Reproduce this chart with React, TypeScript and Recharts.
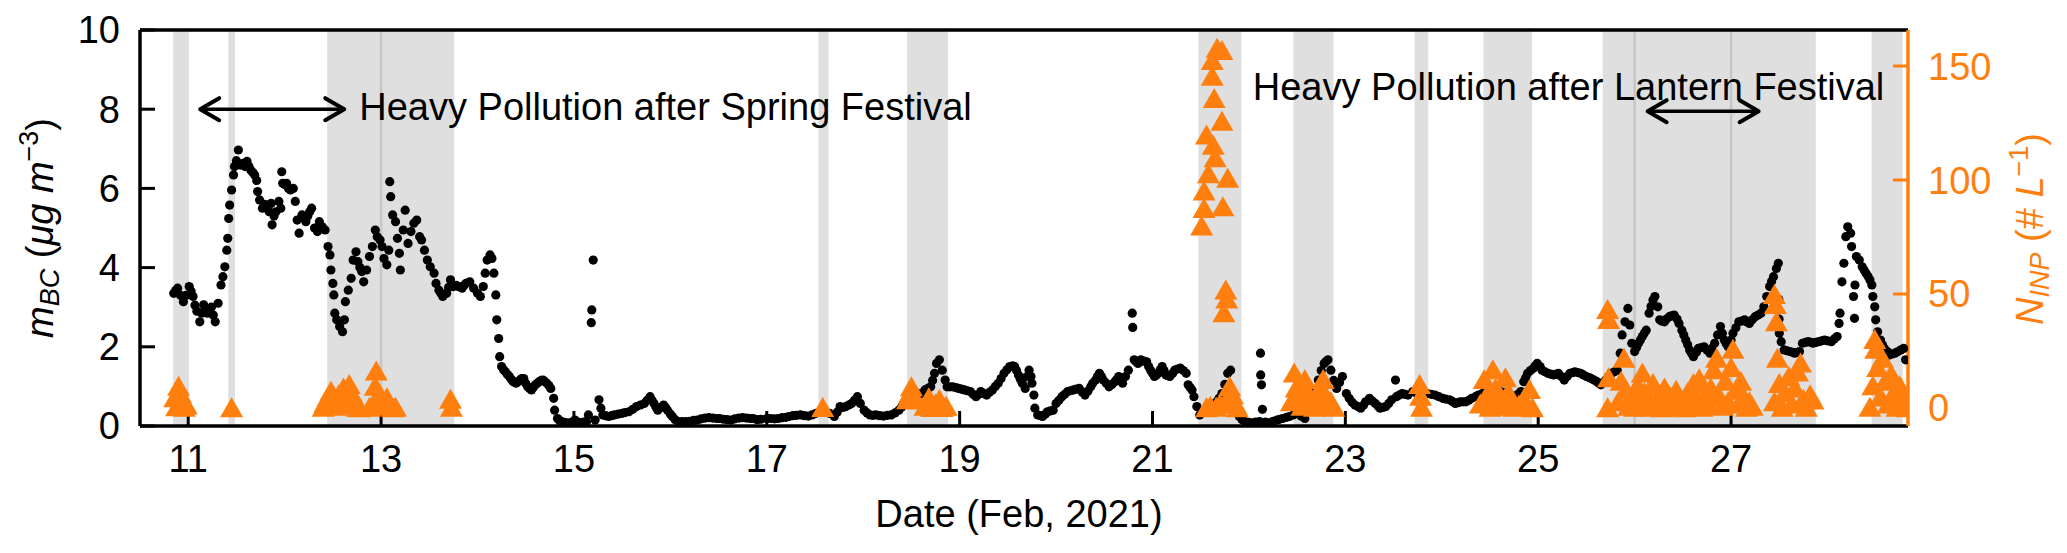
import {
  ComposedChart,
  Scatter,
  XAxis,
  YAxis,
  ReferenceArea,
  ReferenceLine,
  ReferenceDot,
} from "recharts";

const FONT = "'Liberation Sans', Arial, Helvetica, sans-serif";
const ORANGE = "#ff7f0e";

// black carbon mass (day of Feb 2021, µg m-3)
const bcSeries: [number, number][] = [
  [10.85, 3.35], [10.87, 3.42], [10.89, 3.48], [10.92, 3.3], [10.95, 3.14], [10.98, 3.3], [11.01, 3.52], [11.03, 3.4],
  [11.05, 3.27], [11.07, 3.05], [11.09, 2.9], [11.12, 2.63], [11.14, 2.85], [11.16, 3.06], [11.18, 2.95], [11.2, 2.85],
  [11.22, 2.95], [11.24, 3.0], [11.26, 2.8], [11.28, 2.63], [11.31, 3.1], [11.34, 3.56], [11.36, 3.77], [11.38, 4.02],
  [11.4, 4.44], [11.41, 4.74], [11.42, 5.24], [11.43, 5.58], [11.45, 5.96], [11.47, 6.34], [11.48, 6.55], [11.5, 6.7],
  [11.52, 6.97], [11.54, 6.59], [11.57, 6.63], [11.59, 6.55], [11.61, 6.68], [11.63, 6.55], [11.65, 6.46], [11.67, 6.4],
  [11.69, 6.34], [11.71, 6.2], [11.72, 5.92], [11.74, 5.71], [11.77, 5.5], [11.79, 5.6], [11.81, 5.58], [11.84, 5.41],
  [11.86, 5.62], [11.87, 5.08], [11.89, 5.3], [11.91, 5.41], [11.94, 5.67], [11.96, 5.5], [11.97, 6.42], [11.98, 6.13],
  [12.0, 6.1], [12.02, 6.13], [12.04, 6.0], [12.06, 5.96], [12.09, 6.0], [12.11, 5.67], [12.13, 5.2], [12.15, 4.87],
  [12.18, 5.33], [12.2, 5.25], [12.22, 5.16], [12.24, 5.3], [12.26, 5.41], [12.28, 5.5], [12.31, 5.0], [12.34, 4.91],
  [12.36, 5.16], [12.39, 5.03], [12.42, 4.95], [12.45, 4.53], [12.47, 4.32], [12.48, 3.94], [12.5, 3.6], [12.51, 3.31],
  [12.52, 2.85], [12.54, 2.68], [12.57, 2.51], [12.6, 2.38], [12.62, 2.68], [12.63, 3.14], [12.66, 3.43], [12.69, 3.73],
  [12.71, 4.19], [12.74, 4.4], [12.76, 4.15], [12.78, 4.0], [12.8, 3.9], [12.82, 3.64], [12.85, 3.94], [12.88, 4.28],
  [12.91, 4.53], [12.94, 4.95], [12.96, 4.78], [12.99, 4.7], [13.01, 4.53], [13.03, 4.23], [13.06, 4.07], [13.08, 4.44],
  [13.09, 6.17], [13.1, 5.79], [13.12, 5.33], [13.15, 5.16], [13.17, 4.74], [13.19, 4.36], [13.2, 3.94], [13.23, 4.95],
  [13.25, 5.45], [13.28, 4.61], [13.31, 4.91], [13.34, 5.12], [13.37, 5.2], [13.4, 4.78], [13.42, 4.7], [13.45, 4.44],
  [13.48, 4.19], [13.51, 4.02], [13.55, 3.86], [13.57, 3.6], [13.6, 3.43], [13.62, 3.35], [13.64, 3.27], [13.68, 3.35],
  [13.7, 3.5], [13.72, 3.69], [13.75, 3.52], [13.78, 3.55], [13.8, 3.52], [13.84, 3.48], [13.86, 3.55], [13.88, 3.6],
  [13.92, 3.64], [13.96, 3.48], [14.0, 3.35], [14.03, 3.27], [14.06, 3.52], [14.08, 3.86], [14.1, 4.19], [14.13, 4.32],
  [14.15, 4.23], [14.17, 3.86], [14.19, 3.31], [14.2, 2.68], [14.22, 2.21], [14.23, 1.75], [14.25, 1.5], [14.27, 1.42],
  [14.29, 1.37], [14.31, 1.3], [14.33, 1.25], [14.35, 1.18], [14.37, 1.12], [14.4, 1.08], [14.42, 1.12], [14.44, 1.16],
  [14.46, 1.2], [14.48, 1.2], [14.5, 1.08], [14.52, 0.99], [14.54, 0.95], [14.56, 0.91], [14.58, 0.98], [14.6, 1.04],
  [14.62, 1.08], [14.64, 1.12], [14.66, 1.15], [14.68, 1.16], [14.7, 1.12], [14.72, 1.08], [14.74, 1.02], [14.76, 0.95],
  [14.79, 0.7], [14.8, 0.4], [14.83, 0.19], [14.85, 0.14], [14.87, 0.11], [14.9, 0.09], [14.93, 0.08], [14.95, 0.07],
  [14.98, 0.1], [15.01, 0.15], [15.04, 0.1], [15.07, 0.08], [15.1, 0.1], [15.13, 0.11], [15.15, 0.28], [15.18, 2.61],
  [15.185, 2.93], [15.2, 4.19], [15.22, 0.15], [15.26, 0.66], [15.28, 0.45], [15.3, 0.28], [15.33, 0.26], [15.36, 0.24],
  [15.39, 0.26], [15.42, 0.28], [15.46, 0.3], [15.5, 0.32], [15.53, 0.34], [15.57, 0.36], [15.61, 0.42], [15.65, 0.49],
  [15.69, 0.53], [15.73, 0.57], [15.76, 0.65], [15.79, 0.74], [15.81, 0.65], [15.83, 0.57], [15.85, 0.48], [15.87, 0.4],
  [15.9, 0.47], [15.93, 0.53], [15.95, 0.47], [15.97, 0.4], [16.0, 0.3], [16.02, 0.24], [16.05, 0.16], [16.08, 0.11],
  [16.12, 0.11], [16.16, 0.11], [16.2, 0.12], [16.24, 0.14], [16.28, 0.15], [16.32, 0.18], [16.36, 0.2], [16.4, 0.21],
  [16.44, 0.2], [16.48, 0.19], [16.51, 0.19], [16.55, 0.17], [16.59, 0.16], [16.63, 0.15], [16.67, 0.18], [16.71, 0.2],
  [16.75, 0.21], [16.79, 0.2], [16.83, 0.19], [16.86, 0.19], [16.9, 0.16], [16.94, 0.17], [17.0, 0.19], [17.04, 0.19],
  [17.08, 0.18], [17.12, 0.19], [17.16, 0.21], [17.2, 0.22], [17.23, 0.24], [17.27, 0.26], [17.31, 0.27], [17.35, 0.28],
  [17.39, 0.26], [17.43, 0.25], [17.47, 0.28], [17.51, 0.32], [17.55, 0.36], [17.6, 0.4], [17.65, 0.32], [17.7, 0.24],
  [17.73, 0.35], [17.76, 0.49], [17.79, 0.47], [17.82, 0.49], [17.85, 0.53], [17.88, 0.57], [17.91, 0.65], [17.94, 0.74],
  [17.97, 0.57], [18.01, 0.4], [18.04, 0.33], [18.07, 0.28], [18.1, 0.27], [18.13, 0.28], [18.17, 0.26], [18.21, 0.25],
  [18.25, 0.27], [18.29, 0.28], [18.33, 0.33], [18.37, 0.4], [18.4, 0.48], [18.42, 0.57], [18.45, 0.62], [18.48, 0.66],
  [18.52, 0.7], [18.56, 0.74], [18.6, 0.82], [18.64, 0.91], [18.67, 0.95], [18.7, 0.99], [18.72, 1.15], [18.74, 1.33],
  [18.76, 1.58], [18.79, 1.67], [18.82, 1.41], [18.85, 1.16], [18.87, 0.99], [18.9, 0.99], [18.93, 0.99], [18.96, 0.97],
  [18.99, 0.95], [19.02, 0.93], [19.05, 0.91], [19.08, 0.89], [19.11, 0.87], [19.14, 0.8], [19.17, 0.74], [19.2, 0.8],
  [19.22, 0.87], [19.25, 0.82], [19.28, 0.78], [19.31, 0.85], [19.34, 0.91], [19.37, 1.0], [19.4, 1.08], [19.43, 1.2],
  [19.46, 1.33], [19.49, 1.42], [19.52, 1.5], [19.55, 1.52], [19.57, 1.5], [19.59, 1.4], [19.61, 1.29], [19.63, 1.18],
  [19.65, 1.08], [19.68, 0.95], [19.7, 1.25], [19.72, 1.41], [19.74, 1.25], [19.75, 1.08], [19.77, 0.78], [19.78, 0.45],
  [19.81, 0.28], [19.84, 0.26], [19.86, 0.24], [19.89, 0.3], [19.91, 0.36], [19.94, 0.38], [19.97, 0.4], [20.0, 0.57],
  [20.03, 0.65], [20.06, 0.74], [20.09, 0.8], [20.12, 0.87], [20.15, 0.89], [20.18, 0.91], [20.21, 0.93], [20.24, 0.95],
  [20.27, 0.86], [20.3, 0.78], [20.33, 0.88], [20.36, 0.99], [20.38, 1.08], [20.41, 1.16], [20.43, 1.25], [20.45, 1.33],
  [20.47, 1.25], [20.49, 1.16], [20.52, 1.08], [20.55, 0.99], [20.58, 1.05], [20.61, 1.12], [20.63, 1.18], [20.65, 1.25],
  [20.67, 1.16], [20.69, 1.08], [20.72, 1.25], [20.75, 1.41], [20.79, 2.85], [20.795, 2.49], [20.81, 1.67], [20.83, 1.62],
  [20.85, 1.58], [20.87, 1.62], [20.88, 1.67], [20.91, 1.64], [20.94, 1.62], [20.96, 1.5], [20.98, 1.41], [21.0, 1.33],
  [21.02, 1.25], [21.04, 1.29], [21.06, 1.33], [21.08, 1.42], [21.1, 1.5], [21.12, 1.4], [21.14, 1.29], [21.16, 1.27],
  [21.18, 1.25], [21.21, 1.33], [21.23, 1.41], [21.26, 1.44], [21.29, 1.46], [21.32, 1.4], [21.35, 1.33], [21.37, 1.04],
  [21.39, 0.97], [21.41, 0.91], [21.43, 0.74], [21.46, 0.49], [21.49, 0.28], [21.52, 0.34], [21.55, 0.4], [21.58, 0.45],
  [21.62, 0.49], [21.66, 0.6], [21.69, 0.7], [21.72, 0.82], [21.75, 1.05], [21.78, 1.33], [21.81, 1.41], [21.84, 0.82],
  [21.87, 0.5], [21.9, 0.24], [21.93, 0.16], [21.96, 0.11], [22.0, 0.09], [22.03, 0.08], [22.07, 0.1], [22.11, 0.11],
  [22.12, 1.84], [22.122, 1.29], [22.13, 1.04], [22.14, 0.42], [22.17, 0.1], [22.21, 0.08], [22.25, 0.12], [22.29, 0.15],
  [22.32, 0.17], [22.35, 0.19], [22.39, 0.22], [22.42, 0.24], [22.46, 0.28], [22.5, 0.32], [22.54, 0.25], [22.58, 0.19],
  [22.62, 0.38], [22.66, 0.57], [22.69, 0.85], [22.72, 1.16], [22.75, 1.4], [22.78, 1.58], [22.8, 1.63], [22.82, 1.67],
  [22.85, 1.41], [22.88, 1.15], [22.91, 0.95], [22.94, 1.1], [22.97, 1.25], [23.01, 0.82], [23.04, 0.7], [23.07, 0.6],
  [23.1, 0.53], [23.13, 0.49], [23.16, 0.45], [23.19, 0.53], [23.21, 0.61], [23.25, 0.7], [23.28, 0.63], [23.31, 0.57],
  [23.34, 0.5], [23.36, 0.45], [23.39, 0.47], [23.42, 0.49], [23.45, 0.57], [23.48, 0.66], [23.52, 1.16], [23.53, 0.74],
  [23.56, 0.78], [23.59, 0.82], [23.62, 0.8], [23.65, 0.78], [23.7, 0.87], [23.74, 0.82], [23.78, 0.78], [23.82, 0.8],
  [23.85, 0.82], [23.89, 0.8], [23.93, 0.78], [23.97, 0.74], [24.01, 0.7], [24.04, 0.68], [24.08, 0.66], [24.11, 0.62],
  [24.14, 0.57], [24.17, 0.59], [24.19, 0.61], [24.22, 0.61], [24.25, 0.61], [24.28, 0.65], [24.31, 0.7], [24.35, 0.74],
  [24.38, 0.78], [24.42, 0.82], [24.46, 0.87], [24.5, 0.91], [24.53, 0.95], [24.57, 0.91], [24.61, 0.87], [24.65, 0.85],
  [24.68, 0.82], [24.72, 0.78], [24.76, 0.74], [24.79, 0.8], [24.82, 0.87], [24.85, 1.12], [24.87, 1.22], [24.89, 1.33],
  [24.92, 1.4], [24.95, 1.46], [24.97, 1.52], [24.99, 1.58], [25.02, 1.5], [25.04, 1.41], [25.07, 1.37], [25.1, 1.33],
  [25.13, 1.31], [25.16, 1.29], [25.19, 1.31], [25.21, 1.33], [25.24, 1.25], [25.27, 1.16], [25.3, 1.25], [25.33, 1.33],
  [25.36, 1.35], [25.38, 1.37], [25.41, 1.35], [25.44, 1.33], [25.47, 1.29], [25.5, 1.25], [25.53, 1.22], [25.55, 1.2],
  [25.58, 1.16], [25.61, 1.12], [25.63, 1.08], [25.65, 1.04], [25.68, 1.1], [25.7, 1.16], [25.73, 1.25], [25.76, 1.33],
  [25.79, 1.37], [25.82, 1.41], [25.85, 1.84], [25.87, 2.3], [25.9, 2.63], [25.93, 2.97], [25.95, 2.55], [25.97, 2.09],
  [26.0, 1.88], [26.02, 1.98], [26.04, 2.09], [26.06, 2.17], [26.08, 2.26], [26.1, 2.34], [26.12, 2.42], [26.15, 2.85],
  [26.17, 3.02], [26.19, 3.18], [26.21, 3.27], [26.24, 3.01], [26.26, 2.68], [26.28, 2.65], [26.31, 2.63], [26.33, 2.7],
  [26.36, 2.76], [26.38, 2.78], [26.41, 2.8], [26.44, 2.7], [26.46, 2.59], [26.49, 2.42], [26.51, 2.3], [26.53, 2.17],
  [26.55, 2.05], [26.57, 1.92], [26.59, 1.84], [26.61, 1.75], [26.64, 1.86], [26.66, 1.96], [26.69, 1.98], [26.72, 2.0],
  [26.75, 1.92], [26.78, 1.84], [26.8, 1.96], [26.83, 2.09], [26.86, 2.3], [26.89, 2.51], [26.91, 2.34], [26.93, 2.17],
  [26.95, 2.08], [26.97, 2.0], [27.0, 2.17], [27.02, 2.34], [27.05, 2.48], [27.08, 2.63], [27.11, 2.65], [27.14, 2.68],
  [27.16, 2.63], [27.19, 2.59], [27.22, 2.68], [27.25, 2.76], [27.28, 2.8], [27.31, 2.85], [27.34, 3.01], [27.37, 3.27],
  [27.4, 3.52], [27.42, 3.65], [27.44, 3.77], [27.47, 3.98], [27.49, 4.11], [27.495, 3.2], [27.498, 2.7], [27.5, 2.34],
  [27.52, 2.13], [27.55, 1.92], [27.58, 1.9], [27.61, 1.88], [27.64, 1.86], [27.66, 1.84], [27.69, 1.86], [27.71, 1.88],
  [27.74, 2.09], [27.77, 2.11], [27.8, 2.13], [27.83, 2.11], [27.85, 2.09], [27.88, 2.11], [27.91, 2.13], [27.94, 2.15],
  [27.97, 2.17], [28.0, 2.15], [28.04, 2.13], [28.07, 2.2], [28.1, 2.26], [28.12, 2.59], [28.13, 2.85], [28.15, 3.64],
  [28.17, 4.11], [28.19, 4.78], [28.21, 5.03], [28.24, 4.87], [28.25, 4.53], [28.27, 3.27], [28.28, 2.72], [28.285, 3.56],
  [28.3, 4.28], [28.33, 4.19], [28.36, 4.02], [28.38, 3.94], [28.4, 3.86], [28.42, 3.78], [28.44, 3.69], [28.46, 3.56],
  [28.47, 3.27], [28.49, 3.01], [28.5, 2.68], [28.52, 2.38], [28.55, 2.17], [28.57, 2.05], [28.59, 1.96], [28.62, 1.88],
  [28.64, 1.79], [28.67, 1.82], [28.7, 1.84], [28.73, 1.88], [28.76, 1.92], [28.79, 1.96], [28.81, 1.67],
];

// INP number concentration (day, # per L)
const inpSeries: [number, number][] = [
  [10.86, 4.7], [10.88, 0.8], [10.9, 9.8], [10.92, 6.5], [10.94, 2.5], [10.96, 0.5], [10.98, 1.5],
  [11.45, 0.3],
  [12.4, 0.5], [12.42, 2.5], [12.45, 5.0], [12.48, 7.6], [12.5, 3.0], [12.53, 1.0], [12.56, 6.0], [12.59, 2.0],
  [12.61, 9.0], [12.64, 4.0], [12.67, 10.5], [12.69, 7.0], [12.72, 2.0], [12.75, 0.5], [12.78, 0.3],
  [12.88, 0.5], [12.92, 2.0], [12.94, 9.8], [12.95, 16.4], [12.97, 5.0], [13.0, 1.0], [13.03, 3.0], [13.06, 4.7],
  [13.09, 1.5], [13.12, 0.3], [13.15, 0.5],
  [13.72, 4.0], [13.73, 0.5],
  [17.58, 0.4],
  [18.46, 3.8], [18.48, 6.5], [18.5, 9.5], [18.52, 4.5], [18.55, 3.8],
  [18.64, 1.0], [18.68, 4.7], [18.71, 0.4], [18.75, 2.0], [18.79, 3.9], [18.82, 0.4], [18.86, 1.0],
  [21.51, 80], [21.535, 95.4], [21.535, 87.7], [21.56, 120], [21.58, 103], [21.62, 152.6], [21.62, 145.7],
  [21.63, 115.5], [21.64, 136], [21.65, 110], [21.67, 158], [21.72, 157], [21.72, 126], [21.73, 88.5],
  [21.78, 101], [21.76, 52], [21.77, 48], [21.74, 42],
  [21.56, 0.3], [21.6, 1.0], [21.66, 0.5], [21.7, 2.0], [21.78, 4.5], [21.8, 9.6], [21.83, 6.0], [21.86, 2.0], [21.88, 0.3],
  [22.44, 3.0], [22.47, 15.6], [22.49, 9.0], [22.52, 5.0], [22.55, 1.0], [22.58, 12.7], [22.61, 7.0], [22.64, 2.0],
  [22.68, 0.5], [22.71, 4.0], [22.74, 9.0], [22.77, 12.7], [22.79, 6.0], [22.82, 1.5], [22.85, 3.0], [22.88, 0.5],
  [23.77, 10.5], [23.78, 5.4], [23.79, 0.5],
  [24.4, 2.0], [24.44, 12.7], [24.47, 6.0], [24.5, 0.5], [24.53, 17.0], [24.56, 9.0], [24.59, 3.0], [24.62, 1.0],
  [24.66, 13.5], [24.69, 7.0], [24.72, 2.5], [24.75, 0.5], [24.8, 1.5], [24.85, 4.0], [24.91, 8.3], [24.94, 0.3],
  [25.72, 43.4], [25.73, 39.0], [25.73, 13.5], [25.72, 0.3],
  [25.83, 3], [25.86, 12], [25.89, 22], [25.91, 8], [25.94, 1], [25.97, 5], [26.0, 0.5], [26.03, 10], [26.06, 2],
  [26.08, 15.6], [26.1, 7], [26.13, 0.5], [26.16, 4], [26.19, 11], [26.22, 1], [26.25, 6], [26.28, 0.3], [26.31, 9],
  [26.34, 2], [26.37, 5], [26.4, 0.5], [26.43, 8], [26.46, 1], [26.49, 3], [26.52, 0.3], [26.55, 7], [26.58, 1],
  [26.61, 11], [26.64, 4], [26.67, 13], [26.7, 0.5], [26.73, 6], [26.76, 2], [26.79, 9], [26.82, 17], [26.85, 22],
  [26.88, 5], [26.91, 1], [26.94, 12], [26.97, 3], [27.0, 18], [27.02, 26], [27.05, 8], [27.08, 2], [27.1, 12],
  [27.13, 5], [27.16, 0.5], [27.19, 3], [27.22, 1],
  [27.45, 50], [27.46, 45.6], [27.47, 38],
  [27.45, 3], [27.48, 22], [27.5, 11], [27.53, 0.5], [27.56, 7], [27.6, 14], [27.63, 2], [27.66, 9], [27.69, 16],
  [27.72, 20], [27.75, 4], [27.78, 0.5], [27.82, 6], [27.85, 3.7],
  [28.44, 0.5], [28.47, 10], [28.49, 30.3], [28.5, 26], [28.52, 18], [28.55, 5], [28.57, 22], [28.6, 12], [28.63, 2],
  [28.66, 15], [28.69, 7], [28.72, 0.5], [28.75, 10], [28.78, 3], [28.81, 5], [28.83, 0.3],
];

// shaded periods
const bandStarts = [10.844, 11.416, 12.441, 17.536, 18.455, 21.476, 22.461, 23.718, 24.432, 25.668, 28.457];
const bandEnds = [11.008, 11.486, 13.759, 17.64, 18.88, 21.922, 22.877, 23.86, 24.936, 27.879, 28.78];
const dividers = [13.0, 26.0, 27.0];

const xDomain: [number, number] = [10.5, 28.835];
const xTicks = [11, 13, 15, 17, 19, 21, 23, 25, 27];
const leftTicks = [0, 2, 4, 6, 8, 10];
const rightTicks = [0, 50, 100, 150];

const notes = [
  { text: "Heavy Pollution after Spring Festival", x: 12.774, y: 7.72 },
  { text: "Heavy Pollution after Lantern Festival", x: 22.04, y: 8.22 },
];
const arrows = [
  { from: 11.124, to: 12.618, y: 8 },
  { from: 26.135, to: 27.286, y: 7.95 },
];

const bcData = bcSeries.map(([t, v]) => ({ t, v }));
const inpData = inpSeries.map(([t, v]) => ({ t, v }));

const Dot = (p: any) => <circle cx={p.cx} cy={p.cy} r={4.6} fill="#000" />;

const Tri = (p: any) => (
  <polygon
    points={`${p.cx},${p.cy - 10} ${p.cx - 11.5},${p.cy + 10} ${p.cx + 11.5},${p.cy + 10}`}
    fill={ORANGE}
  />
);

// inward tick marks
const TickMark = (dx: number, dy: number, color: string) => (p: any) => (
  <line x1={p.cx} y1={p.cy} x2={p.cx + dx} y2={p.cy + dy} stroke={color} strokeWidth={3} />
);

const Head = (dir: number) => (p: any) => (
  <polyline
    points={`${p.cx + dir * 19},${p.cy - 11} ${p.cx},${p.cy} ${p.cx + dir * 19},${p.cy + 11}`}
    fill="none"
    stroke="#000"
    strokeWidth={4}
    strokeLinecap="round"
    strokeLinejoin="round"
  />
);

const NoteText = (text: string) => (p: any) => (
  <text x={p.cx} y={p.cy} fontFamily={FONT} fontSize={38} fill="#000">
    {text}
  </text>
);

function LeftTitle() {
  return (
    <text
      transform="translate(53,228) rotate(-90)"
      textAnchor="middle"
      fontFamily={FONT}
      fontSize={38}
      fill="#000"
    >
      <tspan fontStyle="italic">m</tspan>
      <tspan fontStyle="italic" fontSize={27} dy={6}>BC</tspan>
      <tspan dy={-6}>{" ("}</tspan>
      <tspan fontStyle="italic">{"\u03bcg m"}</tspan>
      <tspan fontSize={27} dy={-15}>{"\u22123"}</tspan>
      <tspan dy={15}>)</tspan>
    </text>
  );
}

function RightTitle() {
  return (
    <text
      transform="translate(2043,229) rotate(-90)"
      textAnchor="middle"
      fontFamily={FONT}
      fontSize={38}
      fill={ORANGE}
    >
      <tspan fontStyle="italic">N</tspan>
      <tspan fontStyle="italic" fontSize={27} dy={6}>INP</tspan>
      <tspan dy={-6}>{" (# "}</tspan>
      <tspan fontStyle="italic">L</tspan>
      <tspan fontSize={27} dy={-15}>{"\u22121"}</tspan>
      <tspan dy={15}>)</tspan>
    </text>
  );
}

function XTitle() {
  return (
    <text x={1019} y={527} textAnchor="middle" fontFamily={FONT} fontSize={38} fill="#000">
      Date (Feb, 2021)
    </text>
  );
}

export default function App() {
  return (
    <div style={{ position: "absolute", left: 0, top: 0, background: "#fff" }}>
      <ComposedChart
        width={2067}
        height={553}
        margin={{ top: 30, right: 0, bottom: 0, left: 0 }}
      >
        <XAxis
          dataKey="t"
          type="number"
          domain={xDomain}
          allowDataOverflow
          ticks={xTicks}
          height={127}
          tickSize={0}
          tickMargin={19}
          axisLine={{ stroke: "#000", strokeWidth: 3.5 }}
          tickLine={false}
          tick={{ fill: "#000", fontSize: 38, fontFamily: FONT }}
          label={<XTitle />}
        />
        <YAxis
          yAxisId="left"
          dataKey="v"
          type="number"
          domain={[0, 10]}
          allowDataOverflow
          ticks={leftTicks}
          width={140}
          tickSize={0}
          tickMargin={20}
          axisLine={{ stroke: "#000", strokeWidth: 3.5 }}
          tickLine={false}
          tick={{ fill: "#000", fontSize: 38, fontFamily: FONT }}
          label={<LeftTitle />}
        />
        <YAxis
          yAxisId="right"
          orientation="right"
          dataKey="v"
          type="number"
          domain={[-7.9, 165.8]}
          allowDataOverflow
          ticks={rightTicks}
          width={159}
          tickSize={0}
          tickMargin={20}
          axisLine={{ stroke: ORANGE, strokeWidth: 3.5 }}
          tickLine={false}
          tick={{ fill: ORANGE, fontSize: 38, fontFamily: FONT }}
          label={<RightTitle />}
        />

        {bandStarts.map((s, i) => (
          <ReferenceArea
            key={`band-${i}`}
            yAxisId="left"
            x1={s}
            x2={bandEnds[i]}
            fill="#dfdfdf"
            fillOpacity={1}
            stroke="none"
          />
        ))}
        {dividers.map((d) => (
          <ReferenceLine key={`div-${d}`} yAxisId="left" x={d} stroke="#c6c6c6" strokeWidth={2.5} />
        ))}
        <ReferenceLine yAxisId="left" y={10} stroke="#000" strokeWidth={3.5} />

        {xTicks.map((t) => (
          <ReferenceDot key={`xt-${t}`} yAxisId="left" x={t} y={0} shape={TickMark(0, -15, "#000")} />
        ))}
        {leftTicks.map((v) => (
          <ReferenceDot key={`lt-${v}`} yAxisId="left" x={xDomain[0]} y={v} shape={TickMark(15, 0, "#000")} />
        ))}
        {rightTicks.map((v) => (
          <ReferenceDot key={`rt-${v}`} yAxisId="right" x={xDomain[1]} y={v} shape={TickMark(-15, 0, ORANGE)} />
        ))}

        <Scatter
          yAxisId="left"
          data={bcData}
          dataKey="v"
          shape={Dot}
          isAnimationActive={false}
        />
        <Scatter
          yAxisId="right"
          data={inpData}
          dataKey="v"
          shape={Tri}
          isAnimationActive={false}
        />

        {arrows.map((a, i) => (
          <ReferenceLine
            key={`arrow-${i}`}
            yAxisId="left"
            segment={[
              { x: a.from, y: a.y },
              { x: a.to, y: a.y },
            ]}
            stroke="#000"
            strokeWidth={3.5}
          />
        ))}
        {arrows.map((a, i) => (
          <ReferenceDot key={`hl-${i}`} yAxisId="left" x={a.from} y={a.y} shape={Head(1)} />
        ))}
        {arrows.map((a, i) => (
          <ReferenceDot key={`hr-${i}`} yAxisId="left" x={a.to} y={a.y} shape={Head(-1)} />
        ))}
        {notes.map((n, i) => (
          <ReferenceDot key={`note-${i}`} yAxisId="left" x={n.x} y={n.y} shape={NoteText(n.text)} />
        ))}
      </ComposedChart>
    </div>
  );
}
